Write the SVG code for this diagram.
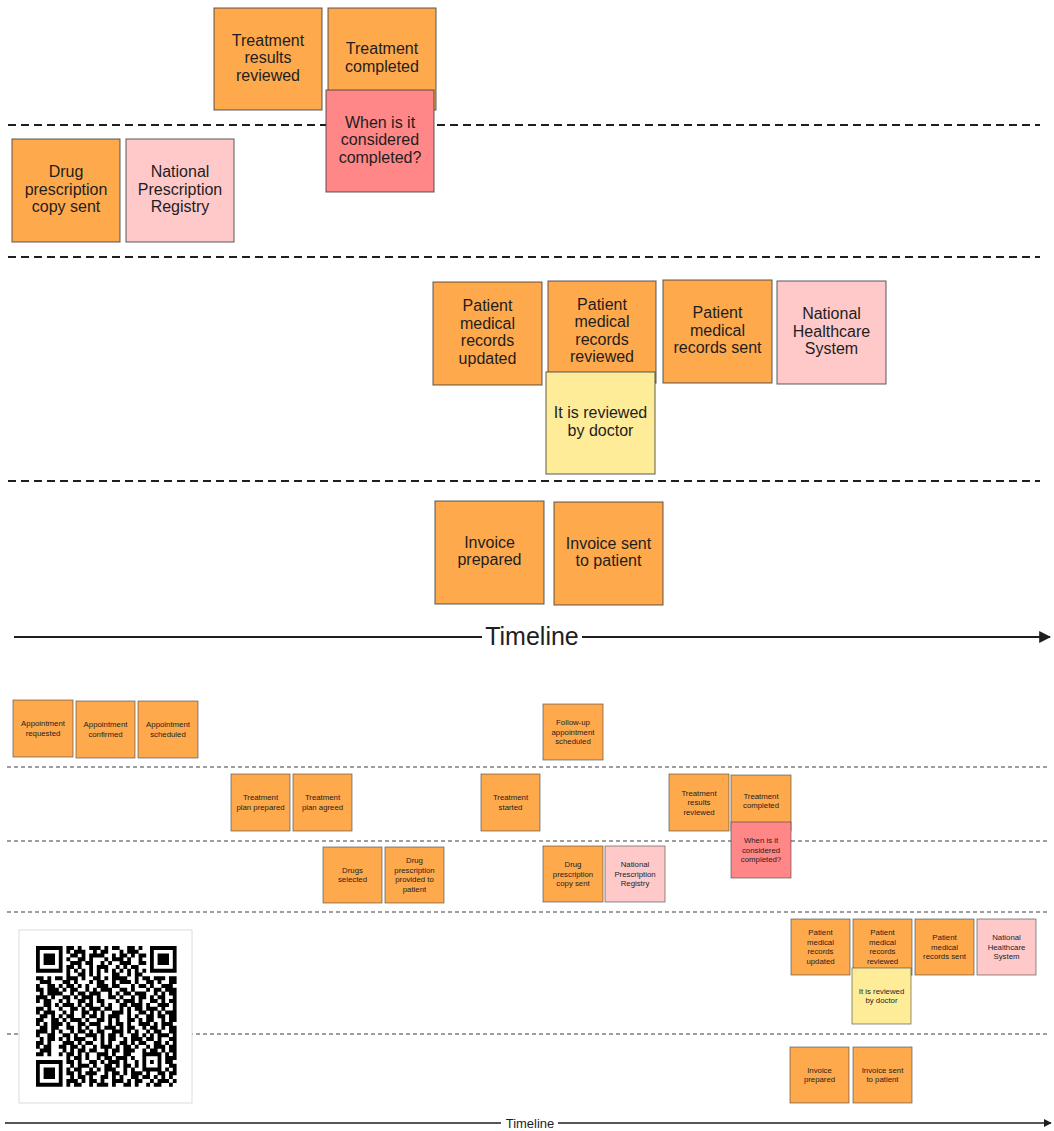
<svg xmlns="http://www.w3.org/2000/svg" width="1054" height="1131" viewBox="0 0 1054 1131">
  <style>
    text { font-family: "Liberation Sans", Arial, sans-serif; fill: #1e1e1e; text-anchor: middle; }
    .big text { font-size: 16px; }
    .small text { font-size: 7.8px; }
    .ev rect { fill: #ffa94d; }
    .ext rect { fill: #ffc9c9; }
    .hot rect { fill: #ff8787; }
    .note rect { fill: #ffec99; }
    .big rect { stroke: #3a3a3a; stroke-width: 1.1; stroke-opacity: 0.75; }
    .small rect { stroke: #3a3a3a; stroke-width: 0.8; stroke-opacity: 0.7; }
    .lane-big { stroke: #1e1e1e; stroke-width: 1.8; stroke-dasharray: 8 5; fill: none; }
    .lane-small { stroke: #3c3c3c; stroke-width: 1; stroke-dasharray: 4 3; fill: none; }
    .axis { stroke: #1e1e1e; fill: none; }
  </style>
  <defs>
    <marker id="arrow" viewBox="0 0 10 10" refX="9" refY="5" markerWidth="6" markerHeight="6" orient="auto" markerUnits="strokeWidth">
      <path d="M0 0 L10 5 L0 10 z" fill="#1e1e1e"/>
    </marker>
  </defs>

  <rect width="1054" height="1131" fill="#ffffff"/>

  <!-- swimlane separators -->
  <g id="lanes">
    <path class="lane-big" d="M8 125 H1040"/>
    <path class="lane-big" d="M8 257 H1040"/>
    <path class="lane-big" d="M8 481 H1040"/>
    <path class="lane-small" d="M7 767 H1050"/>
    <path class="lane-small" d="M7 841 H1050"/>
    <path class="lane-small" d="M7 912 H1050"/>
    <path class="lane-small" d="M7 1034 H1050"/>
  </g>

  <!-- timelines -->
  <g id="connectors">
    <path class="axis" stroke-width="2" d="M14 637 H482"/>
    <path class="axis" stroke-width="2" d="M582 637 H1050" marker-end="url(#arrow)"/>
    <path class="axis" stroke-width="1.3" stroke="#555" d="M5 1123 H501"/>
    <path class="axis" stroke-width="1.3" stroke="#555" d="M558 1123 H1051" marker-end="url(#arrow)"/>
  </g>
  <text id="timeline-top" x="532" y="645" style="font-size:25px">Timeline</text>
  <text id="timeline-bottom" x="530" y="1127.5" style="font-size:13px">Timeline</text>

  <!-- close-up board -->
  <g class="big">
    <g id="n-treatment-results-reviewed" class="ev">
      <rect x="214" y="8" width="108" height="102"/>
      <text><tspan x="268" y="45.5">Treatment</tspan><tspan x="268" y="63">results</tspan><tspan x="268" y="80.5">reviewed</tspan></text>
    </g>
    <g id="n-treatment-completed" class="ev">
      <rect x="328" y="8" width="108" height="102"/>
      <text><tspan x="382" y="54.25">Treatment</tspan><tspan x="382" y="71.75">completed</tspan></text>
    </g>
    <g id="n-when-completed" class="hot">
      <rect x="326" y="90" width="108" height="102"/>
      <text><tspan x="380" y="127.5">When is it</tspan><tspan x="380" y="145">considered</tspan><tspan x="380" y="162.5">completed?</tspan></text>
    </g>
    <g id="n-drug-copy-sent" class="ev">
      <rect x="12" y="139" width="108" height="103"/>
      <text><tspan x="66" y="177">Drug</tspan><tspan x="66" y="194.5">prescription</tspan><tspan x="66" y="212">copy sent</tspan></text>
    </g>
    <g id="n-prescription-registry" class="ext">
      <rect x="126" y="139" width="108" height="103"/>
      <text><tspan x="180" y="177">National</tspan><tspan x="180" y="194.5">Prescription</tspan><tspan x="180" y="212">Registry</tspan></text>
    </g>
    <g id="n-records-updated" class="ev">
      <rect x="433" y="282" width="109" height="103"/>
      <text><tspan x="487.5" y="311.25">Patient</tspan><tspan x="487.5" y="328.75">medical</tspan><tspan x="487.5" y="346.25">records</tspan><tspan x="487.5" y="363.75">updated</tspan></text>
    </g>
    <g id="n-records-reviewed" class="ev">
      <rect x="548" y="281" width="108" height="102"/>
      <text><tspan x="602" y="309.75">Patient</tspan><tspan x="602" y="327.25">medical</tspan><tspan x="602" y="344.75">records</tspan><tspan x="602" y="362.25">reviewed</tspan></text>
    </g>
    <g id="n-reviewed-by-doctor" class="note">
      <rect x="546" y="372" width="109" height="102"/>
      <text><tspan x="600.5" y="418.25">It is reviewed</tspan><tspan x="600.5" y="435.75">by doctor</tspan></text>
    </g>
    <g id="n-records-sent" class="ev">
      <rect x="663" y="280" width="109" height="103"/>
      <text><tspan x="717.5" y="318">Patient</tspan><tspan x="717.5" y="335.5">medical</tspan><tspan x="717.5" y="353">records sent</tspan></text>
    </g>
    <g id="n-healthcare-system" class="ext">
      <rect x="777" y="281" width="109" height="103"/>
      <text><tspan x="831.5" y="319">National</tspan><tspan x="831.5" y="336.5">Healthcare</tspan><tspan x="831.5" y="354">System</tspan></text>
    </g>
    <g id="n-invoice-prepared" class="ev">
      <rect x="435" y="501" width="109" height="103"/>
      <text><tspan x="489.5" y="547.75">Invoice</tspan><tspan x="489.5" y="565.25">prepared</tspan></text>
    </g>
    <g id="n-invoice-sent" class="ev">
      <rect x="554" y="502" width="109" height="103"/>
      <text><tspan x="608.5" y="548.75">Invoice sent</tspan><tspan x="608.5" y="566.25">to patient</tspan></text>
    </g>
  </g>

  <!-- full board -->
  <g class="small">
    <g id="s-appointment-requested" class="ev">
      <rect x="13" y="700" width="60" height="57"/>
      <text><tspan x="43" y="726.25">Appointment</tspan><tspan x="43" y="735.75">requested</tspan></text>
    </g>
    <g id="s-appointment-confirmed" class="ev">
      <rect x="76" y="701" width="59" height="57"/>
      <text><tspan x="105.5" y="727.25">Appointment</tspan><tspan x="105.5" y="736.75">confirmed</tspan></text>
    </g>
    <g id="s-appointment-scheduled" class="ev">
      <rect x="138" y="701" width="60" height="57"/>
      <text><tspan x="168" y="727.25">Appointment</tspan><tspan x="168" y="736.75">scheduled</tspan></text>
    </g>
    <g id="s-followup-scheduled" class="ev">
      <rect x="543" y="704" width="60" height="56"/>
      <text><tspan x="573" y="725">Follow-up</tspan><tspan x="573" y="734.5">appointment</tspan><tspan x="573" y="744">scheduled</tspan></text>
    </g>
    <g id="s-plan-prepared" class="ev">
      <rect x="231" y="774" width="59" height="57"/>
      <text><tspan x="260.5" y="800.25">Treatment</tspan><tspan x="260.5" y="809.75">plan prepared</tspan></text>
    </g>
    <g id="s-plan-agreed" class="ev">
      <rect x="293" y="774" width="59" height="57"/>
      <text><tspan x="322.5" y="800.25">Treatment</tspan><tspan x="322.5" y="809.75">plan agreed</tspan></text>
    </g>
    <g id="s-treatment-started" class="ev">
      <rect x="481" y="774" width="59" height="57"/>
      <text><tspan x="510.5" y="800.25">Treatment</tspan><tspan x="510.5" y="809.75">started</tspan></text>
    </g>
    <g id="s-results-reviewed" class="ev">
      <rect x="669" y="774" width="60" height="57"/>
      <text><tspan x="699" y="795.5">Treatment</tspan><tspan x="699" y="805">results</tspan><tspan x="699" y="814.5">reviewed</tspan></text>
    </g>
    <g id="s-treatment-completed" class="ev">
      <rect x="731" y="775" width="60" height="56"/>
      <text><tspan x="761" y="798.5">Treatment</tspan><tspan x="761" y="808">completed</tspan></text>
    </g>
    <g id="s-when-completed" class="hot">
      <rect x="731" y="822" width="60" height="56"/>
      <text><tspan x="761" y="843">When is it</tspan><tspan x="761" y="852.5">considered</tspan><tspan x="761" y="862">completed?</tspan></text>
    </g>
    <g id="s-drugs-selected" class="ev">
      <rect x="323" y="847" width="59" height="56"/>
      <text><tspan x="352.5" y="872.75">Drugs</tspan><tspan x="352.5" y="882.25">selected</tspan></text>
    </g>
    <g id="s-prescription-provided" class="ev">
      <rect x="385" y="847" width="59" height="56"/>
      <text><tspan x="414.5" y="863.25">Drug</tspan><tspan x="414.5" y="872.75">prescription</tspan><tspan x="414.5" y="882.25">provided to</tspan><tspan x="414.5" y="891.75">patient</tspan></text>
    </g>
    <g id="s-drug-copy-sent" class="ev">
      <rect x="543" y="846" width="60" height="56"/>
      <text><tspan x="573" y="867">Drug</tspan><tspan x="573" y="876.5">prescription</tspan><tspan x="573" y="886">copy sent</tspan></text>
    </g>
    <g id="s-prescription-registry" class="ext">
      <rect x="605" y="846" width="60" height="56"/>
      <text><tspan x="635" y="867">National</tspan><tspan x="635" y="876.5">Prescription</tspan><tspan x="635" y="886">Registry</tspan></text>
    </g>
    <g id="s-records-updated" class="ev">
      <rect x="791" y="919" width="59" height="56"/>
      <text><tspan x="820.5" y="935.25">Patient</tspan><tspan x="820.5" y="944.75">medical</tspan><tspan x="820.5" y="954.25">records</tspan><tspan x="820.5" y="963.75">updated</tspan></text>
    </g>
    <g id="s-records-reviewed" class="ev">
      <rect x="853" y="919" width="59" height="56"/>
      <text><tspan x="882.5" y="935.25">Patient</tspan><tspan x="882.5" y="944.75">medical</tspan><tspan x="882.5" y="954.25">records</tspan><tspan x="882.5" y="963.75">reviewed</tspan></text>
    </g>
    <g id="s-reviewed-by-doctor" class="note">
      <rect x="852" y="968" width="59" height="56"/>
      <text><tspan x="881.5" y="993.75">It is reviewed</tspan><tspan x="881.5" y="1003.25">by doctor</tspan></text>
    </g>
    <g id="s-records-sent" class="ev">
      <rect x="915" y="919" width="59" height="56"/>
      <text><tspan x="944.5" y="940">Patient</tspan><tspan x="944.5" y="949.5">medical</tspan><tspan x="944.5" y="959">records sent</tspan></text>
    </g>
    <g id="s-healthcare-system" class="ext">
      <rect x="977" y="919" width="59" height="56"/>
      <text><tspan x="1006.5" y="940">National</tspan><tspan x="1006.5" y="949.5">Healthcare</tspan><tspan x="1006.5" y="959">System</tspan></text>
    </g>
    <g id="s-invoice-prepared" class="ev">
      <rect x="790" y="1047" width="59" height="56"/>
      <text><tspan x="819.5" y="1072.75">Invoice</tspan><tspan x="819.5" y="1082.25">prepared</tspan></text>
    </g>
    <g id="s-invoice-sent" class="ev">
      <rect x="853" y="1047" width="59" height="56"/>
      <text><tspan x="882.5" y="1072.75">Invoice sent</tspan><tspan x="882.5" y="1082.25">to patient</tspan></text>
    </g>
  </g>

  <!-- QR code card: 37x37 modules, one stroked run per row (h = dark run, m = light gap) -->
  <g id="qr-card">
    <rect x="19" y="930" width="173" height="173" fill="#ffffff" stroke="#dcdcdc" stroke-width="1"/>
    <g transform="translate(36 946) scale(3.8)">
      <path fill="none" stroke="#000" stroke-width="1.04" d="
        M0 0.5h7m1 0h2m1 0h1m2 0h3m1 0h1m1 0h2m2 0h2m1 0h1m2 0h7
        M0 1.5h1m5 0h1m1 0h1m1 0h3m2 0h1m1 0h2m3 0h1m1 0h3m3 0h1m5 0h1
        M0 2.5h1m1 0h3m1 0h1m2 0h2m1 0h1m1 0h4m2 0h1m1 0h2m1 0h1m1 0h2m1 0h1m1 0h3m1 0h1
        M0 3.5h1m1 0h3m1 0h1m1 0h1m2 0h2m1 0h1m3 0h1m1 0h3m1 0h1m2 0h1m2 0h1m1 0h3m1 0h1
        M0 4.5h1m1 0h3m1 0h1m2 0h3m1 0h2m2 0h1m1 0h1m2 0h3m2 0h2m1 0h1m1 0h3m1 0h1
        M0 5.5h1m5 0h1m1 0h2m1 0h1m2 0h1m1 0h3m2 0h1m1 0h1m1 0h2m3 0h1m5 0h1
        M0 6.5h7m1 0h1m1 0h1m1 0h1m1 0h1m1 0h1m1 0h1m1 0h1m1 0h1m1 0h1m1 0h1m1 0h1m1 0h7
        M8 7.5h1m2 0h2m1 0h1m1 0h1m3 0h2m2 0h1m1 0h2
        M0 8.5h2m1 0h1m1 0h2m1 0h3m1 0h1m2 0h2m1 0h1m1 0h4m2 0h1m1 0h2m1 0h3m1 0h2
        M1 9.5h3m3 0h2m1 0h1m3 0h1m1 0h2m2 0h1m1 0h3m1 0h1m2 0h2m1 0h1m2 0h2
        M0 10.5h1m2 0h2m1 0h1m1 0h2m1 0h1m1 0h1m2 0h3m1 0h2m3 0h1m1 0h2m1 0h1m2 0h3
        M0 11.5h2m1 0h3m1 0h1m1 0h2m2 0h1m1 0h1m1 0h3m2 0h2m1 0h1m3 0h1m1 0h2m1 0h3
        M1 12.5h1m1 0h4m2 0h1m1 0h2m1 0h3m2 0h1m1 0h1m1 0h2m1 0h3m2 0h1m1 0h1m1 0h2
        M0 13.5h3m1 0h1m2 0h2m1 0h1m1 0h3m1 0h1m2 0h2m1 0h1m2 0h1m1 0h2m1 0h1m1 0h2m2 0h1
        M0 14.5h1m1 0h2m2 0h1m1 0h1m2 0h2m1 0h1m1 0h2m3 0h1m1 0h3m1 0h1m2 0h2m1 0h1m1 0h2
        M2 15.5h2m1 0h1m1 0h3m1 0h1m1 0h2m2 0h1m1 0h1m2 0h2m1 0h3m1 0h1m2 0h3m1 0h1
        M0 16.5h2m1 0h1m2 0h1m2 0h2m1 0h1m1 0h3m1 0h2m2 0h1m1 0h1m1 0h2m1 0h3m1 0h1m2 0h1
        M0 17.5h1m1 0h3m2 0h1m1 0h1m2 0h2m1 0h1m1 0h1m2 0h3m1 0h1m2 0h2m1 0h1m1 0h1m1 0h3
        M1 18.5h2m1 0h1m1 0h1m1 0h2m2 0h1m1 0h2m1 0h1m1 0h3m2 0h1m1 0h1m2 0h2m1 0h2m1 0h2
        M0 19.5h2m2 0h2m1 0h1m1 0h3m1 0h1m2 0h2m1 0h1m1 0h1m2 0h2m1 0h1m1 0h2m2 0h1m1 0h2
        M0 20.5h1m1 0h1m1 0h3m1 0h1m2 0h2m1 0h3m2 0h1m1 0h2m1 0h1m2 0h3m1 0h1m1 0h3
        M1 21.5h2m1 0h2m2 0h2m1 0h1m1 0h1m2 0h1m1 0h3m1 0h1m1 0h2m2 0h1m1 0h2m1 0h1m1 0h2
        M0 22.5h3m1 0h1m1 0h1m2 0h1m1 0h2m1 0h1m1 0h2m2 0h3m1 0h1m1 0h1m2 0h1m1 0h2m2 0h2
        M0 23.5h1m2 0h2m2 0h2m1 0h1m2 0h3m1 0h1m1 0h2m1 0h1m2 0h2m1 0h1m1 0h1m1 0h3m1 0h1
        M1 24.5h1m1 0h2m1 0h1m1 0h1m1 0h3m2 0h1m1 0h1m1 0h2m2 0h1m1 0h3m1 0h2m1 0h1m2 0h2
        M0 25.5h2m1 0h1m3 0h3m1 0h1m1 0h2m2 0h1m1 0h1m2 0h2m1 0h1m1 0h2m2 0h2m1 0h1m1 0h1
        M0 26.5h1m1 0h2m2 0h2m1 0h2m1 0h1m2 0h1m1 0h3m1 0h1m1 0h2m1 0h1m2 0h1m1 0h3m1 0h2
        M1 27.5h3m3 0h1m1 0h1m1 0h2m1 0h2m2 0h1m1 0h2m1 0h3m2 0h1m1 0h2m1 0h1m1 0h2
        M0 28.5h2m1 0h1m2 0h1m1 0h2m1 0h1m1 0h1m2 0h3m1 0h1m2 0h2m3 0h5m1 0h1m1 0h1
        M8 29.5h1m1 0h2m1 0h1m2 0h1m1 0h2m1 0h3m1 0h1m2 0h1m3 0h1m1 0h3
        M0 30.5h7m1 0h2m1 0h1m2 0h2m1 0h1m1 0h3m1 0h1m2 0h1m1 0h1m1 0h1m1 0h1m1 0h2
        M0 31.5h1m5 0h1m2 0h1m1 0h3m1 0h1m2 0h2m1 0h1m1 0h2m1 0h1m1 0h1m3 0h1m2 0h2
        M0 32.5h1m1 0h3m1 0h1m1 0h1m1 0h2m2 0h1m1 0h1m1 0h3m2 0h1m1 0h1m2 0h5m1 0h1m1 0h1
        M0 33.5h1m1 0h3m1 0h1m1 0h2m1 0h1m1 0h3m2 0h1m1 0h2m1 0h1m1 0h3m1 0h1m2 0h2m1 0h2
        M0 34.5h1m1 0h3m1 0h1m2 0h1m1 0h2m1 0h1m2 0h2m1 0h1m1 0h1m2 0h2m1 0h2m1 0h1m1 0h1m1 0h1
        M0 35.5h1m5 0h1m1 0h3m1 0h1m1 0h2m1 0h1m2 0h3m1 0h1m1 0h2m2 0h1m1 0h3m1 0h1
        M0 36.5h7m1 0h1m1 0h2m2 0h1m1 0h3m1 0h1m2 0h2m1 0h1m2 0h1m1 0h2m2 0h1"/>
    </g>
  </g>
</svg>
